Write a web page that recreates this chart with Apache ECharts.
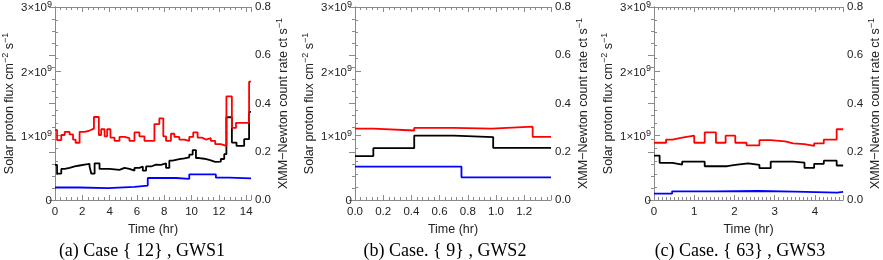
<!DOCTYPE html>
<html><head><meta charset="utf-8">
<script src="https://cdn.jsdelivr.net/npm/echarts@6/dist/echarts.min.js"></script>
<style>html,body{margin:0;padding:0;background:#fff}#c{width:883px;height:260px}</style>
</head><body><div id="c"></div>
<script>
// ---------- DATA ----------
// Flux values in units of 1e9 cm^-2 s^-1 (left axis); count rate in ct s^-1 (right axis)
// Panel (a) Case {12}, GWS1
const tRedA = [0,0.15,0.46,0.71,1.07,1.32,1.51,1.80,2.17,2.53,2.85,3.21,3.38,3.63,3.82,4.06,4.36,4.72,5.09,5.45,5.82,6.18,6.55,7.28,7.64,7.93,8.13,8.49,8.74,9.10,9.47,9.83,10.12,10.44,10.76,11.05,11.41,11.73,12.14,12.55,12.95,13.25,14.21];
const vRedA = [1.09,0.93,1.01,1.06,1.02,0.94,0.89,1.06,1.08,1.11,1.29,1.01,1.10,0.99,1.10,0.97,0.92,0.98,0.96,0.92,1.05,0.99,0.92,1.18,1.27,0.99,0.92,1.03,0.98,0.94,0.92,0.98,1.05,0.97,0.94,0.96,0.92,0.87,0.84,1.61,1.12,1.20,1.84];
const tBlackA = [0,0.15,0.46,0.71,1.07,1.44,1.80,2.17,2.53,2.66,2.90,3.26,3.99,4.72,5.09,5.45,5.82,6.18,6.43,6.67,7.03,7.40,7.76,8.13,8.37,8.61,9.10,9.47,9.83,10.08,10.32,10.56,10.93,11.29,11.73,12.14,12.39,12.55,12.95,13.29,13.85,14.21];
const vBlackA = [0.146,0.109,0.129,0.133,0.139,0.143,0.147,0.150,0.139,0.109,0.152,0.129,0.125,0.133,0.129,0.122,0.133,0.139,0.122,0.139,0.147,0.146,0.152,0.133,0.163,0.169,0.173,0.177,0.188,0.207,0.174,0.171,0.166,0.158,0.159,0.170,0.190,0.343,0.238,0.224,0.252,0.365];
const tBlueA = [0,1.80,3.87,5.82,6.79,8.86,9.83,11.78,12.75];
const vBlueA = [0.194,0.184,0.204,0.224,0.342,0.327,0.398,0.347,0.337];
const endA = 14.35;

// Panel (b) Case. {9}, GWS2
const tRedB = [0,0.13,0.42,0.70,0.97,1.26];
const vRedB = [1.11,1.08,1.12,1.11,1.14,0.98];
const tBlackB = [0,0.13,0.42,0.70,0.98];
const vBlackB = [0.182,0.215,0.267,0.261,0.216];
const tBlueB = [0,0.755];
const vBlueB = [0.52,0.352];
const endB = 1.39;

// Panel (c) Case. {63}, GWS3
const tRedC = [0,0.30,0.46,0.70,1.00,1.26,1.54,1.78,2.02,2.30,2.62,2.90,3.26,3.46,3.74,3.98,4.22,4.54];
const vRedC = [0.89,0.94,0.97,1.00,0.89,1.05,0.89,1.00,0.89,0.85,0.93,0.91,0.88,0.87,0.84,0.88,0.94,1.10];
const tBlackC = [0,0.14,0.46,0.70,1.26,1.82,2.02,2.34,2.62,2.90,3.46,3.74,3.98,4.22,4.54];
const vBlackC = [0.184,0.154,0.147,0.159,0.140,0.146,0.152,0.146,0.132,0.159,0.155,0.133,0.150,0.163,0.143];
const tBlueC = [0,0.45,1.50,2.60,3.50,4.55];
const vBlueC = [0.10,0.135,0.14,0.13,0.115,0.125];
const endC = 4.7;

const leftTicks = [0,1,2,3];          // ×10^9
const rightTicks = [0.0,0.2,0.4,0.6,0.8];
const captions = ['(a) Case { 12} , GWS1','(b) Case. { 9} , GWS2','(c) Case. { 63} , GWS3'];
const xTitle = 'Time (hr)';

// ---------- LAYOUT ----------
const panels = [
  {left:55, xMax:endA, xInt:2, xDec:0, xMinor:5, capX:142,
   red:[tRedA,vRedA], black:[tBlackA,vBlackA], blue:[tBlueA,vBlueA]},
  {left:355, xMax:endB, xInt:0.2, xDec:1, xMinor:5, capX:445,
   red:[tRedB,vRedB], black:[tBlackB,vBlackB], blue:[tBlueB,vBlueB]},
  {left:654, xMax:endC, xInt:1, xDec:0, xMinor:10, capX:740,
   red:[tRedC,vRedC], black:[tBlackC,vBlackC], blue:[tBlueC,vBlueC]}
];
const W = 196, H = 196, TOP = 4;
const AX = '#8a8a8a', TXT = '#222', FONT = 'Liberation Sans';

function stepData(t, v, end){
  const d = t.map((x,i)=>[x, v[i]]);
  d.push([end, v[v.length-1]]);
  return d;
}
const tickRich = {
  b:{fontSize:11.5, fontFamily:FONT, color:TXT, lineHeight:14, verticalAlign:'bottom'},
  sup:{fontSize:9, fontFamily:FONT, color:TXT, lineHeight:14, verticalAlign:'top'}
};
const nameRich = {
  b:{fontSize:12.5, fontFamily:FONT, color:TXT, lineHeight:15, verticalAlign:'bottom'},
  sup:{fontSize:9, fontFamily:FONT, color:TXT, lineHeight:15, verticalAlign:'top'}
};

const grid=[], xAxis=[], yAxis=[], series=[], graphic=[];
panels.forEach((p,i)=>{
  grid.push({left:p.left, top:TOP, width:W, height:H, containLabel:false});
  const common = {
    type:'value', gridIndex:i, min:0, max:p.xMax, interval:p.xInt,
    axisLine:{show:true, onZero:false, lineStyle:{color:AX, width:1}},
    axisTick:{show:true, inside:true, length:5, lineStyle:{color:AX}},
    minorTick:{show:true, splitNumber:p.xMinor, length:3, lineStyle:{color:AX}},
    splitLine:{show:false}
  };
  xAxis.push(Object.assign({}, common, {
    position:'bottom',
    name:xTitle, nameLocation:'middle', nameGap:20,
    nameTextStyle:{fontSize:12.5, fontFamily:FONT, color:TXT},
    axisLabel:{show:true, margin:6, fontSize:11.5, fontFamily:FONT, color:TXT, showMaxLabel:false,
      formatter:v=>v.toFixed(p.xDec)}
  }));
  xAxis.push(Object.assign({}, common, {position:'top', axisLabel:{show:false}}));
  yAxis.push({
    type:'value', gridIndex:i, position:'left', min:leftTicks[0], max:leftTicks[leftTicks.length-1], interval:1,
    axisLine:{show:true, lineStyle:{color:AX}},
    axisTick:{show:true, inside:true, length:6, lineStyle:{color:AX}},
    minorTick:{show:true, splitNumber:5, length:3, lineStyle:{color:AX}},
    splitLine:{show:false},
    axisLabel:{margin:3, fontSize:11.5, fontFamily:FONT, color:TXT, rich:tickRich,
      formatter:v=> v===0 ? '{b|0}' : '{b|'+v+'×10}{sup|9}'},
    name:'{b|Solar proton flux cm}{sup|−2}{b| s}{sup|−1}', nameLocation:'middle', nameGap:39, nameRotate:90,
    nameTextStyle:{fontSize:12.5, fontFamily:FONT, color:TXT, rich:nameRich}
  });
  yAxis.push({
    type:'value', gridIndex:i, position:'right', min:rightTicks[0], max:rightTicks[rightTicks.length-1], interval:0.2,
    axisLine:{show:true, lineStyle:{color:AX}},
    axisTick:{show:true, inside:true, length:6, lineStyle:{color:AX}},
    minorTick:{show:true, splitNumber:4, length:3, lineStyle:{color:AX}},
    splitLine:{show:false},
    axisLabel:{margin:4, fontSize:11.5, fontFamily:FONT, color:TXT, formatter:v=>v.toFixed(1)},
    name:'{b|XMM−Newton count rate ct s}{sup|−1}', nameLocation:'middle', nameGap:20, nameRotate:90,
    nameTextStyle:{fontSize:12.5, fontFamily:FONT, color:TXT, rich:nameRich}
  });
  const xi = i*2, yl = i*2, yr = i*2+1;
  const mk = (d, color, yIdx, z)=>({
    type:'line', step:'end', xAxisIndex:xi, yAxisIndex:yIdx, data:d,
    symbol:'none', showSymbol:false, lineStyle:{color, width:1.8}, itemStyle:{color}, z, silent:true
  });
  series.push(mk(stepData(p.blue[0], p.blue[1], p.xMax), '#0000ff', yl, 2));
  series.push(mk(stepData(p.black[0], p.black[1], p.xMax), '#000000', yr, 3));
  series.push(mk(stepData(p.red[0], p.red[1], p.xMax), '#ff0000', yl, 4));
  graphic.push({type:'text', x:p.capX, y:251, style:{text:captions[i], align:'center', verticalAlign:'middle',
    font:'18px "Liberation Serif"', fill:'#000'}});
});

const chart = echarts.init(document.getElementById('c'), null, {renderer:'canvas'});
chart.setOption({animation:false, backgroundColor:'#fff', grid, xAxis, yAxis, series, graphic});
</script>
</body></html>
